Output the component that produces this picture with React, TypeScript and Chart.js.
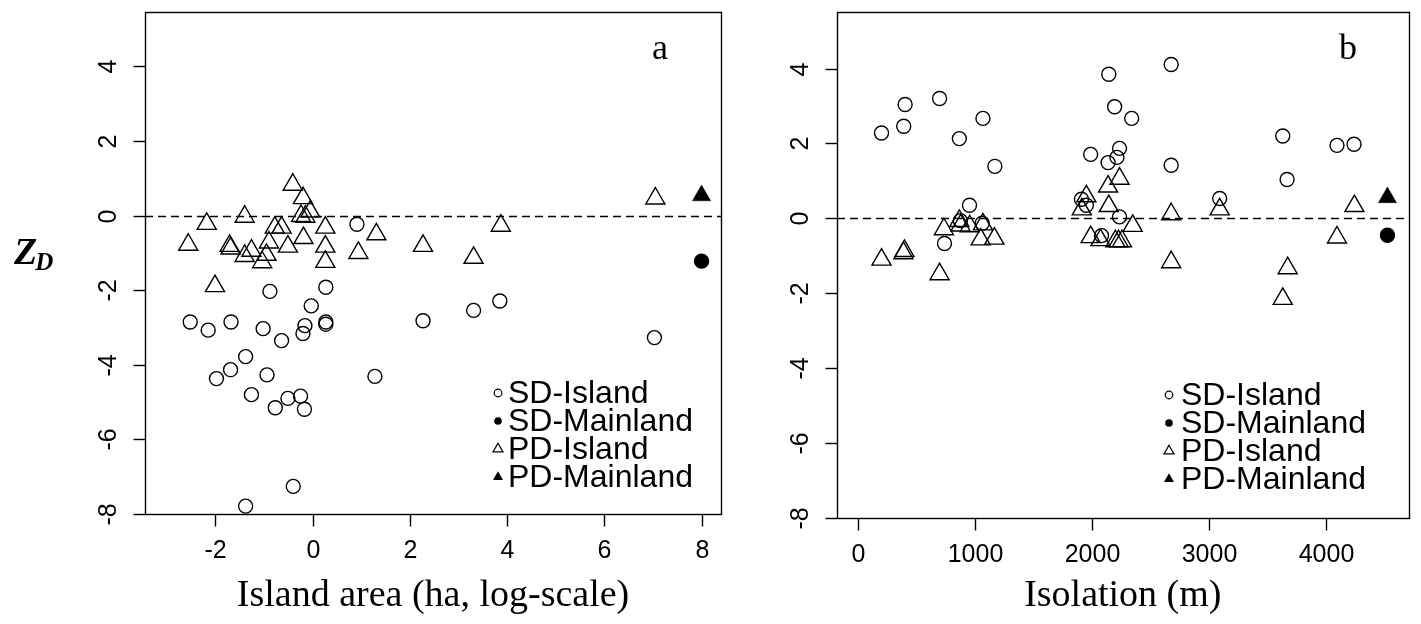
import React, { useEffect, useRef } from "react";
import { Chart, registerables } from "chart.js";

Chart.register(...registerables);

const seriesNames = ["SD-Island", "SD-Mainland", "PD-Island", "PD-Mainland"];

const areaTicksX = [-2, 0, 2, 4, 6, 8];
const isolationTicksX = [0, 1000, 2000, 3000, 4000];
const zdTicks = [-8, -6, -4, -2, 0, 2, 4];

// Panel a: island area (log-scale)
const areaSdIslandX = [-0.88, 0.27, -0.03, -2.52, -2.15, -1.68, -1.02, -0.64, -0.16, -0.2, 0.27, 0.27, -1.38, -1.69, -1.98, -0.94, -1.26, -0.77, -0.51, -0.25, -0.17, -0.4, -1.38, 1.28, 0.91, 2.27, 3.31, 3.85, 7.03];
const areaSdIslandY = [-2.03, -1.92, -2.42, -2.85, -3.07, -2.85, -3.03, -3.35, -2.95, -3.16, -2.85, -2.91, -3.78, -4.13, -4.37, -4.27, -4.8, -5.15, -4.9, -4.84, -5.19, -7.26, -7.79, -4.31, -0.23, -2.82, -2.54, -2.29, -3.27];
const areaSdMainlandX = [8];
const areaSdMainlandY = [-1.22];
const areaPdIslandX = [-0.41, -0.2, -0.05, -0.24, -0.15, -2.18, -1.4, -2.56, -2.01, -1.71, -1.69, -1.4, -1.26, -1.04, -0.95, -0.9, -0.78, -0.64, -0.51, -0.19, 0.26, 0.26, 0.26, 0.94, 1.31, 2.27, 3.31, 3.87, 7.05];
const areaPdIslandY = [0.83, 0.47, 0.11, -0.01, -0.03, -0.22, -0.03, -0.78, -1.89, -0.81, -0.88, -1.08, -0.94, -1.25, -1.05, -0.72, -0.32, -0.32, -0.83, -0.6, -0.32, -0.83, -1.24, -1.0, -0.5, -0.81, -1.13, -0.27, 0.46];
const areaPdMainlandX = [8];
const areaPdMainlandY = [0.54];

// Panel b: isolation (m)
const isoSdIslandX = [200, 402, 390, 697, 866, 1068, 1170, 953, 739, 2145, 2195, 1990, 2139, 2215, 2237, 2341, 1911, 1953, 2237, 2083, 1062, 875, 2679, 2679, 3634, 3671, 4098, 4244, 3094];
const isoSdIslandY = [2.28, 3.04, 2.46, 3.2, 2.13, 2.67, 1.39, 0.35, -0.67, 3.85, 2.98, 1.71, 1.49, 1.63, 1.87, 2.67, 0.51, 0.35, 0.04, -0.46, -0.13, -0.06, 4.11, 1.42, 2.2, 1.04, 1.95, 1.98, 0.53];
const isoSdMainlandX = [4530];
const isoSdMainlandY = [-0.45];
const isoPdIslandX = [200, 396, 388, 697, 734, 866, 877, 955, 1068, 1049, 1166, 1953, 1914, 2139, 2237, 2145, 1990, 2074, 2201, 2229, 2258, 2350, 2679, 2679, 3094, 3676, 3634, 4247, 4098];
const isoPdIslandY = [-1.1, -0.87, -0.93, -1.49, -0.29, -0.07, -0.19, -0.21, -0.16, -0.56, -0.54, 0.59, 0.24, 0.85, 1.06, 0.33, -0.5, -0.58, -0.61, -0.61, -0.61, -0.2, 0.11, -1.17, 0.24, -1.33, -2.15, 0.33, -0.51];
const isoPdMainlandX = [4530];
const isoPdMainlandY = [0.56];

const LW = 1.4;
const SANS = '"Liberation Sans", Arial, sans-serif';
const SERIF = '"Liberation Serif", "Times New Roman", serif';

const zip = (xs: number[], ys: number[]) => xs.map((x, i) => ({ x, y: ys[i] }));

function makeDatasets(sdX, sdY, sdmX, sdmY, pdX, pdY, pdmX, pdmY) {
  const common = { showLine: false, clip: false as any, borderColor: "#000", pointBorderColor: "#000", pointBorderWidth: LW, borderWidth: LW };
  return [
    { ...common, label: seriesNames[0], data: zip(sdX, sdY), pointStyle: "circle", pointRadius: 7, backgroundColor: "rgba(0,0,0,0)", pointBackgroundColor: "rgba(0,0,0,0)" },
    { ...common, label: seriesNames[1], data: zip(sdmX, sdmY), pointStyle: "circle", pointRadius: 7, backgroundColor: "#000", pointBackgroundColor: "#000" },
    { ...common, label: seriesNames[2], data: zip(pdX, pdY), pointStyle: "triangle", pointRadius: 11, backgroundColor: "rgba(0,0,0,0)", pointBackgroundColor: "rgba(0,0,0,0)" },
    { ...common, label: seriesNames[3], data: zip(pdmX, pdmY), pointStyle: "triangle", pointRadius: 10.5, backgroundColor: "#000", pointBackgroundColor: "#000", pointBorderWidth: 0.5 },
  ];
}

type PanelCfg = {
  xTicks: number[];
  xTitle: string;
  letter: string;
  showYTitle: boolean;
  legendMarkerX: number;
  legendTextX: number;
  legendRows: number[];
};

function drawMarker(ctx: CanvasRenderingContext2D, kind: number, x: number, y: number) {
  ctx.save();
  ctx.lineWidth = 1.2;
  ctx.strokeStyle = "#000";
  ctx.fillStyle = "#000";
  ctx.beginPath();
  if (kind === 0 || kind === 1) {
    ctx.arc(x, y, 3.8, 0, Math.PI * 2);
  } else {
    const r = 5.8;
    for (let i = 0; i < 3; i++) {
      const a = (i * 2 * Math.PI) / 3;
      const px = x + Math.sin(a) * r;
      const py = y - Math.cos(a) * r;
      if (i === 0) ctx.moveTo(px, py);
      else ctx.lineTo(px, py);
    }
    ctx.closePath();
  }
  if (kind === 1 || kind === 3) ctx.fill();
  else ctx.stroke();
  ctx.restore();
}

function makePlugin(cfg: PanelCfg) {
  return {
    id: "rframe",
    beforeDatasetsDraw(chart: any) {
      const { ctx, chartArea: a, scales } = chart;
      const y0 = Math.round(scales.y.getPixelForValue(0)) + 0.5;
      ctx.save();
      ctx.strokeStyle = "#000";
      ctx.lineWidth = LW;
      ctx.setLineDash([8, 5]);
      ctx.beginPath();
      ctx.moveTo(a.left, y0);
      ctx.lineTo(a.right, y0);
      ctx.stroke();
      ctx.restore();
    },
    afterDraw(chart: any) {
      const { ctx, chartArea: a, scales } = chart;
      const L = Math.round(a.left) + 0.5;
      const R = Math.round(a.right) + 0.5;
      const T = Math.round(a.top) + 0.5;
      const B = Math.round(a.bottom) + 0.5;
      ctx.save();
      ctx.strokeStyle = "#000";
      ctx.fillStyle = "#000";
      ctx.lineWidth = LW;
      ctx.strokeRect(L, T, R - L, B - T);

      // x ticks
      ctx.font = `25px ${SANS}`;
      ctx.textAlign = "center";
      ctx.textBaseline = "middle";
      cfg.xTicks.forEach((v) => {
        const px = Math.round(scales.x.getPixelForValue(v)) + 0.5;
        ctx.beginPath();
        ctx.moveTo(px, B);
        ctx.lineTo(px, B + 12);
        ctx.stroke();
        ctx.fillText(String(v), px, B + 37);
      });
      // y ticks
      zdTicks.forEach((v) => {
        const py = Math.round(scales.y.getPixelForValue(v)) + 0.5;
        ctx.beginPath();
        ctx.moveTo(L, py);
        ctx.lineTo(L - 12, py);
        ctx.stroke();
        ctx.save();
        ctx.translate(L - 36, py);
        ctx.rotate(-Math.PI / 2);
        ctx.fillText(String(v), 0, 0);
        ctx.restore();
      });

      // x title
      ctx.font = `38px ${SERIF}`;
      ctx.fillText(cfg.xTitle, (a.left + a.right) / 2, 596);

      // panel letter
      ctx.font = `36px ${SERIF}`;
      ctx.fillText(cfg.letter, a.left + 0.894 * (a.right - a.left), 50);

      // y title Z_D
      if (cfg.showYTitle) {
        ctx.textAlign = "left";
        ctx.textBaseline = "alphabetic";
        ctx.font = `italic bold 38px ${SERIF}`;
        ctx.fillText("Z", 14, 264);
        const zw = ctx.measureText("Z").width;
        ctx.font = `italic bold 25px ${SERIF}`;
        ctx.fillText("D", 14 + zw - 2, 270);
      }

      // legend
      ctx.font = `32px ${SANS}`;
      ctx.textAlign = "left";
      ctx.textBaseline = "middle";
      chart.data.datasets.forEach((ds: any, i: number) => {
        const y = cfg.legendRows[i];
        drawMarker(ctx, i, cfg.legendMarkerX, y);
        ctx.fillText(ds.label, cfg.legendTextX, y + 1);
      });
      ctx.restore();
    },
  };
}

function useScatter(
  ref: React.RefObject<HTMLCanvasElement | null>,
  datasets: any[],
  xMin: number,
  xMax: number,
  yMin: number,
  yMax: number,
  padding: any,
  cfg: PanelCfg
) {
  useEffect(() => {
    if (!ref.current) return;
    const chart = new Chart(ref.current, {
      type: "scatter",
      data: { datasets },
      options: {
        responsive: false,
        animation: false,
        events: [],
        layout: { padding },
        scales: {
          x: { type: "linear", display: false, min: xMin, max: xMax },
          y: { type: "linear", display: false, min: yMin, max: yMax },
        },
        plugins: { legend: { display: false }, tooltip: { enabled: false } },
      },
      plugins: [makePlugin(cfg)],
    });
    return () => chart.destroy();
  }, []);
}

export default function App() {
  const leftRef = useRef<HTMLCanvasElement>(null);
  const rightRef = useRef<HTMLCanvasElement>(null);

  useScatter(
    leftRef,
    makeDatasets(areaSdIslandX, areaSdIslandY, areaSdMainlandX, areaSdMainlandY, areaPdIslandX, areaPdIslandY, areaPdMainlandX, areaPdMainlandY),
    -3.45,
    8.4,
    -8,
    5.45,
    { left: 145, right: 19, top: 8, bottom: 110 },
    { xTicks: areaTicksX, xTitle: "Island area (ha, log-scale)", letter: "a", showYTitle: true, legendMarkerX: 498, legendTextX: 508, legendRows: [393, 421, 449, 477] }
  );
  useScatter(
    rightRef,
    makeDatasets(isoSdIslandX, isoSdIslandY, isoSdMainlandX, isoSdMainlandY, isoPdIslandX, isoPdIslandY, isoPdMainlandX, isoPdMainlandY),
    -181,
    4711,
    -8,
    5.5,
    { left: 97, right: 3, top: 12, bottom: 106 },
    { xTicks: isolationTicksX, xTitle: "Isolation (m)", letter: "b", showYTitle: false, legendMarkerX: 429, legendTextX: 441, legendRows: [395, 423, 451, 479] }
  );

  return (
    <div style={{ position: "fixed", left: 0, top: 0, width: 1421, height: 624, background: "#fff", overflow: "hidden" }}>
      <canvas ref={leftRef} width={740} height={624} style={{ position: "absolute", left: 0, top: 0, display: "block" }} />
      <canvas ref={rightRef} width={681} height={624} style={{ position: "absolute", left: 740, top: 0, display: "block" }} />
    </div>
  );
}
